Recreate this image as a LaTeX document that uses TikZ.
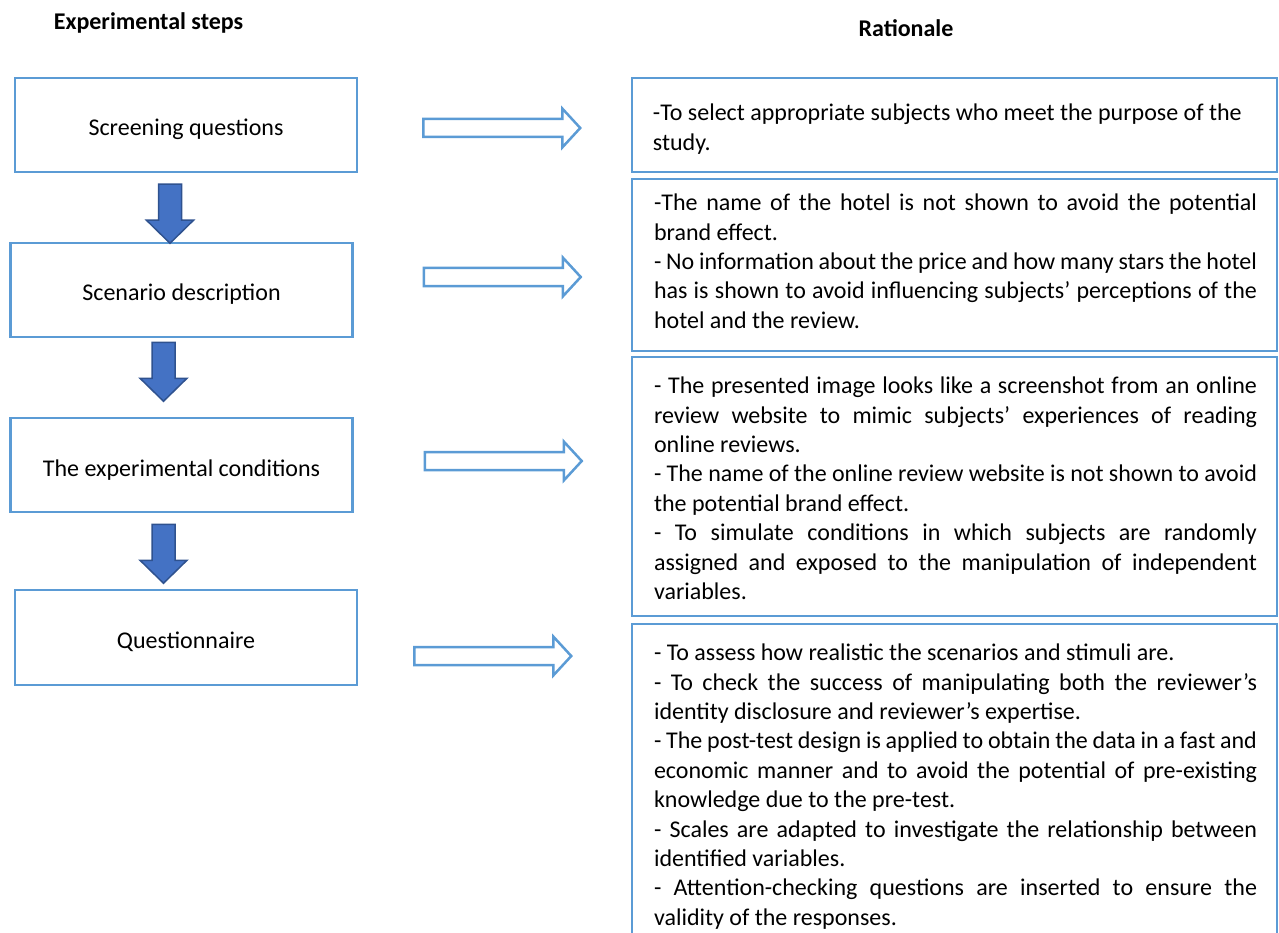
\documentclass[tikz,border=0pt]{standalone}
\usepackage{fontspec}
\setmainfont{Carlito}
\usetikzlibrary{calc}
\definecolor{frameblue}{HTML}{5B9BD5}
\definecolor{stepblue}{HTML}{4472C4}
\definecolor{stepedge}{HTML}{2F528F}
\setlength{\parindent}{0pt}
\hyphenpenalty=10000
\exhyphenpenalty=10000

\begin{document}
\begin{tikzpicture}[x=1pt,y=-1pt,
  every node/.style={font=\fontsize{24}{29.4}\selectfont, inner sep=0pt},
  heading/.style={font=\fontsize{24}{28}\selectfont\bfseries, anchor=base},
  stepbox/.style={draw=frameblue, line width=2.5pt, minimum width=342pt,
    minimum height=94pt, align=center, text height=28pt, text depth=6pt},
  ratframe/.style={draw=frameblue, line width=2.5pt, minimum width=645pt},
  rattext/.style={text width=603pt, align=justify, anchor=north},
  pics/downblock/.style={code={
    \draw[fill=stepblue, draw=stepedge, line width=1.5pt, line join=miter]
      (-11.5,0) -- (11.5,0) -- (11.5,36) -- (23.5,36) -- (0,59)
      -- (-23.5,36) -- (-11.5,36) -- cycle;}},
  pics/rightblock/.style={code={
    \draw[fill=white, draw=frameblue, line width=2.5pt, line join=miter]
      (0,-9) -- (139,-9) -- (139,-19.5) -- (157,0) -- (139,19.5)
      -- (139,9) -- (0,9) -- cycle;}}
]
\clip (0,0) rectangle (1279,933);

% column headings
\node[heading] (hsteps) at (148.5,30) {Experimental steps};
\node[heading] (hrat) at (906,37) {Rationale};

% experimental steps
\node[stepbox] (b1) at (186,125) {Screening questions};
\node[stepbox] (b2) at (181.5,290) {Scenario description};
\node[stepbox] (b3) at (181.5,465) {The experimental conditions};
\node[stepbox, minimum height=95pt] (b4) at (186,637.5) {Questionnaire};

% rationale frames (the last one runs past the lower edge)
\node[ratframe, minimum height=94pt] (r1) at (954.5,125) {};
\node[ratframe, minimum height=172pt] (r2) at (954.5,265) {};
\node[ratframe, minimum height=259pt] (r3) at (954.5,486.5) {};
\node[ratframe, minimum height=336pt] (r4) at (954.5,792) {};

% rationale texts
\node[align=left, anchor=north west] (t1)
  at ($(r1.north west)+(22,27)$)
  {-To select appropriate subjects who meet the purpose of the\\
   study.};
\node[rattext] (t2) at ($(r2.north)+(1,16)$)
  {-The name of the hotel is not shown to avoid the potential\linebreak
   brand effect.\\
   - No information about the price and how many stars the hotel\linebreak
   has is shown to avoid influencing subjects’ perceptions of the\linebreak
   hotel and the review.};
\node[rattext] (t3) at ($(r3.north)+(1,21)$)
  {- The presented image looks like a screenshot from an online\linebreak
   review website to mimic subjects’ experiences of reading\linebreak
   online reviews.\\
   - The name of the online review website is not shown to avoid\linebreak
   the potential brand effect.\\
   - To simulate conditions in which subjects are randomly\linebreak
   assigned and exposed to the manipulation of independent\linebreak
   variables.};
\node[rattext] (t4) at ($(r4.north)+(1,21)$)
  {- To assess how realistic the scenarios and stimuli are.\\
   - To check the success of manipulating both the reviewer’s\linebreak
   identity disclosure and reviewer’s expertise.\\
   - The post-test design is applied to obtain the data in a fast and\linebreak
   economic manner and to avoid the potential of pre-existing\linebreak
   knowledge due to the pre-test.\\
   - Scales are adapted to investigate the relationship between\linebreak
   identified variables.\\
   - Attention-checking questions are inserted to ensure the\linebreak
   validity of the responses.};

% downward block arrows between the steps
\pic at ($(b1.south)+(-16,11)$) {downblock};
\pic at ($(b2.south)+(-18,4)$) {downblock};
\pic at ($(b3.south)+(-18,11)$) {downblock};

% hollow arrows from each step to its rationale
\pic at ($(b1.east)+(65,3)$) {rightblock};
\pic at ($(b2.east)+(70,-13)$) {rightblock};
\pic at ($(b3.east)+(71,-4)$) {rightblock};
\pic at ($(b4.east)+(56,18.5)$) {rightblock};
\end{tikzpicture}
\end{document}
